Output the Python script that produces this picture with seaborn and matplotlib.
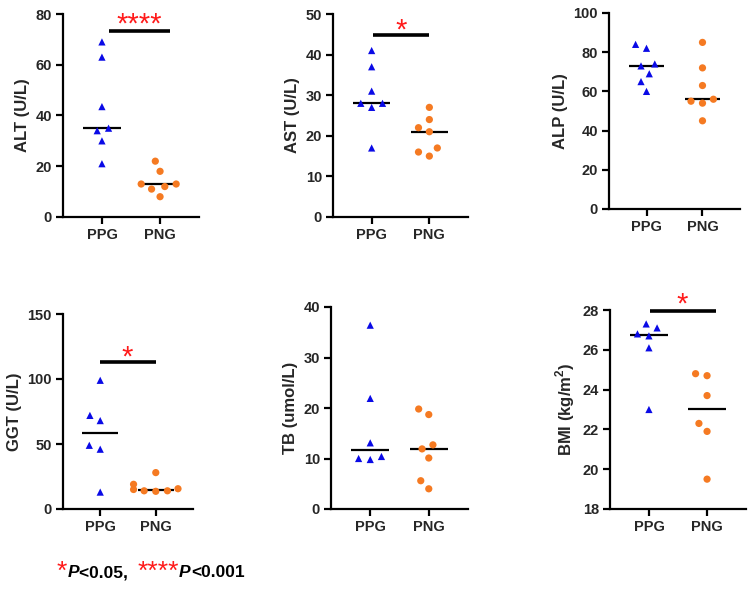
import numpy as np
import pandas as pd
import matplotlib
matplotlib.use("Agg")
import matplotlib.pyplot as plt
from matplotlib.collections import PathCollection
import seaborn as sns

# data
groups = ["PPG", "PNG"]

alt_ppg = [69, 63, 43.5, 34, 35, 30, 21]
alt_png = [22, 18, 13, 13, 12, 11, 8]
ast_ppg = [41, 37, 31, 28, 28, 27, 17]
ast_png = [27, 24, 22, 21, 17, 16, 15]
alp_ppg = [84, 82, 74, 73, 69, 65, 60]
alp_png = [85, 72, 63, 56, 55, 54, 45]
ggt_ppg = [99, 72, 68, 49, 46, 13]
ggt_png = [28, 19, 15.6, 15, 14, 14, 13.6]
tb_ppg = [36.4, 21.9, 13.1, 10.4, 9.8, 10.0]
tb_png = [19.8, 18.7, 12.7, 11.9, 10.1, 5.6, 4.0]
bmi_ppg = [27.3, 27.1, 26.8, 26.7, 26.1, 23.0]
bmi_png = [24.8, 24.7, 23.7, 22.3, 21.9, 19.5]

ylabels = ["ALT (U/L)", "AST (U/L)", "ALP (U/L)",
           "GGT (U/L)", "TB (umol/L)", r"BMI (kg/m$^{\mathbf{2}}$)"]
yticks = [[0, 20, 40, 60, 80], [0, 10, 20, 30, 40, 50], [0, 20, 40, 60, 80, 100],
          [0, 50, 100, 150], [0, 10, 20, 30, 40], [18, 20, 22, 24, 26, 28]]
stars = ["****", "*", None, "*", None, "*"]
series = [(alt_ppg, alt_png), (ast_ppg, ast_png), (alp_ppg, alp_png),
          (ggt_ppg, ggt_png), (tb_ppg, tb_png), (bmi_ppg, bmi_png)]

# layout stuff (pixels, from the top-left)
boxes = [(63, 199, 14, 217), (333, 468, 14, 217), (609, 740, 13, 209),
         (63, 193, 314, 509), (331, 468, 307, 509), (610, 746, 310, 509)]
# significance bar: x0, x1, y, star x, star y
sig = [(0.12, 1.17, 73.3, 0.64, 78.6), (0.03, 1.0, 44.8, 0.52, 47.8), None,
       (0.0, 1.0, 113, 0.48, 122.3), None, (0.02, 1.15, 27.97, 0.57, 28.65)]

blue = "#0a0ae6"
orange = "#f57a22"
star_red = "#ff1a1a"

sns.set_style("ticks")
plt.rcParams["font.family"] = ["Liberation Sans", "DejaVu Sans"]
plt.rcParams["font.weight"] = "bold"
plt.rcParams["mathtext.fontset"] = "custom"
plt.rcParams["mathtext.bf"] = "Liberation Sans:bold"
plt.rcParams["mathtext.rm"] = "Liberation Sans:bold"

W, H = 750, 594
fig = plt.figure(figsize=(W / 100, H / 100), dpi=100)

for i, (ppg, png) in enumerate(series):
    l, r, t, b = boxes[i]
    ax = fig.add_axes([l / W, 1 - b / H, (r - l) / W, (b - t) / H])
    df = pd.DataFrame({"group": ["PPG"] * len(ppg) + ["PNG"] * len(png),
                       "value": list(ppg) + list(png)})

    sns.boxplot(data=df, x="group", y="value", order=groups, width=0.64,
                showbox=False, showcaps=False, showfliers=False,
                whiskerprops={"visible": False},
                medianprops={"color": "black", "linewidth": 1.6}, ax=ax)
    # the (invisible) edge width widens the swarm spacing, prism-like
    sns.swarmplot(data=df[df.group == "PPG"], x="group", y="value", order=groups,
                  marker="^", color=blue, size=5.2, linewidth=2.8, ax=ax)
    sns.swarmplot(data=df[df.group == "PNG"], x="group", y="value", order=groups,
                  marker="o", color=orange, size=5.2, linewidth=2.8, ax=ax)
    for c in ax.collections:
        if isinstance(c, PathCollection):
            c.set_edgecolor("none")

    ax.set_xlim(-0.67, 1.67)
    ax.set_ylim(yticks[i][0], yticks[i][-1])
    ax.set_yticks(yticks[i])
    ax.set_xlabel("")
    ax.set_ylabel(ylabels[i], fontsize=12, fontweight="bold", labelpad=4)
    ax.tick_params(axis="both", width=1.6, length=5, labelsize=10.5, pad=3, color="black")
    for sp in ["left", "bottom"]:
        ax.spines[sp].set_linewidth(1.6)
        ax.spines[sp].set_color("black")
    sns.despine(ax=ax)
    for lab in ax.get_xticklabels() + ax.get_yticklabels():
        lab.set_fontweight("bold")

    if sig[i] is not None:
        x0, x1, y, sx, sy = sig[i]
        ax.plot([x0, x1], [y, y], color="black", lw=2.6, solid_capstyle="butt",
                clip_on=False)
        fs = 21
        ax.annotate(stars[i], (sx, sy), xytext=(0, -0.53 * fs), textcoords="offset points",
                    color=star_red, fontsize=fs, ha="center", va="baseline",
                    fontweight="normal", annotation_clip=False)

# footnote with red raised stars
renderer = fig.canvas.get_renderer()
x = 57
pieces = [("*", star_red, "normal", 19, -2), ("P", "black", "italic", 12.5, 0),
          ("<0.05,  ", "black", "normal", 12.5, 0), ("****", star_red, "normal", 19, -2),
          ("P", "black", "italic", 12.5, 0), ("<0.001", "black", "normal", 12.5, 0)]
for txt, col, style, fs, dy in pieces:
    weight = "normal" if "*" in txt else "bold"
    tt = fig.text(x / W, 1 - (577 - dy) / H, txt, color=col, fontstyle=style,
                  fontsize=fs, fontweight=weight, ha="left", va="baseline")
    bb = tt.get_window_extent(renderer)
    x += bb.width

fig.savefig("out.png", dpi=100)
